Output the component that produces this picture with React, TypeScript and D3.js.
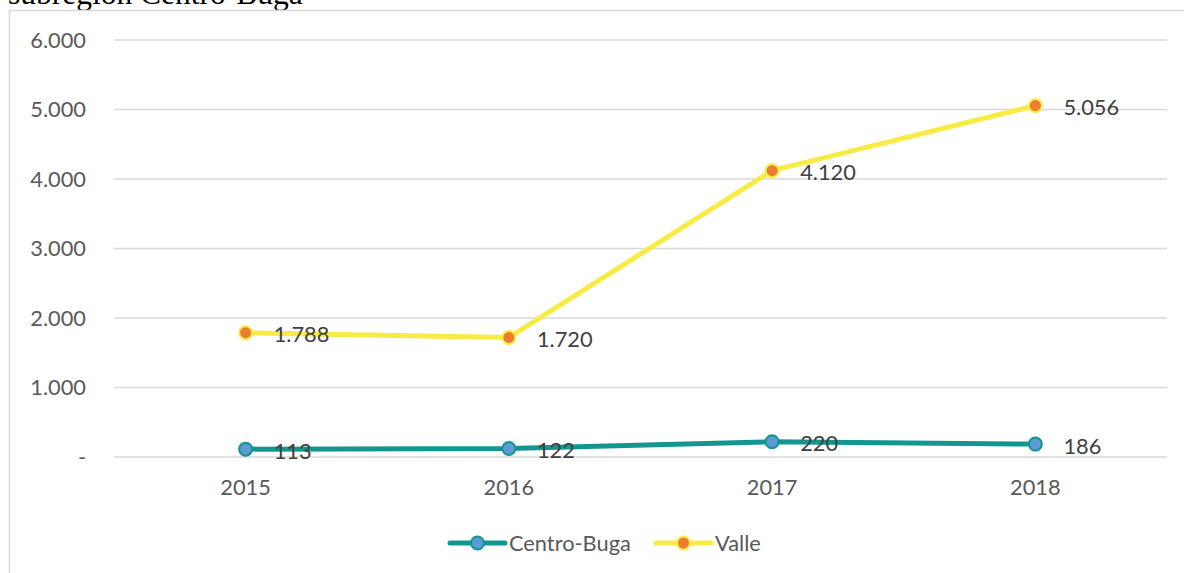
import React from "react";
import * as d3 from "d3";

const years = ["2015", "2016", "2017", "2018"];
const centroBuga = [113, 122, 220, 186];
const valle = [1788, 1720, 4120, 5056];
const yTicks = [0, 1000, 2000, 3000, 4000, 5000, 6000];
const seriesNames = ["Centro-Buga", "Valle"];

const W = 1184;
const H = 573;
const FONT = "Lato, 'Open Sans', sans-serif";
const FS = 21.8;
const fmt = (v: number) => (v === 0 ? "-" : d3.format(",")(v).replace(/,/g, "."));

export default function App() {
  const x = d3.scaleBand().domain(years).range([114, 1167]);
  const y = d3.scaleLinear().domain([0, 6000]).range([457, 40]);
  const cx = (d: string) => (x(d) as number) + x.bandwidth() / 2;
  const line = d3
    .line<number>()
    .x((_, i) => cx(years[i]))
    .y((d) => y(d));

  const series = [
    { name: seriesNames[0], data: centroBuga, stroke: "#13968E", fill: "#5B9BD5" },
    { name: seriesNames[1], data: valle, stroke: "#F7EC45", fill: "#ED7D31" },
  ];

  const legendX = [450, 656];

  return (
    <svg
      width={W}
      height={H}
      style={{ position: "absolute", left: 0, top: 0, background: "#fff" }}
    >
      <text
        x={8}
        y={4}
        fontFamily="'Liberation Serif', 'Times New Roman', serif"
        fontSize={31.5}
        fill="#000"
      >
        subregión Centro-Buga
      </text>
      <rect x={9.5} y={10.5} width={1300} height={700} fill="#fff" stroke="#d9d9d9" strokeWidth={1.5} />
      {yTicks.map((t) => (
        <g key={t}>
          <line x1={114} x2={1167} y1={y(t)} y2={y(t)} stroke="#d9d9d9" strokeWidth={1.5} />
          <text
            x={86}
            y={y(t)}
            dy="0.35em"
            textAnchor="end"
            fontFamily={FONT}
            fontSize={FS}
            fill="#595959"
          >
            {fmt(t)}
          </text>
        </g>
      ))}
      {years.map((yr) => (
        <text
          key={yr}
          x={cx(yr)}
          y={487}
          dy="0.35em"
          textAnchor="middle"
          fontFamily={FONT}
          fontSize={FS}
          fill="#595959"
        >
          {yr}
        </text>
      ))}
      {series.map((s) => (
        <g key={s.name}>
          <path d={line(s.data) as string} fill="none" stroke={s.stroke} strokeWidth={5} strokeLinejoin="round" />
          {s.data.map((v, i) => (
            <circle key={i} cx={cx(years[i])} cy={y(v)} r={6.5} fill={s.fill} stroke={s.stroke} strokeWidth={2} />
          ))}
          {s.data.map((v, i) => (
            <text
              key={"l" + i}
              x={cx(years[i]) + 28}
              y={y(v) + 2}
              dy="0.35em"
              fontFamily={FONT}
              fontSize={FS}
              fill="#404040"
            >
              {fmt(v)}
            </text>
          ))}
        </g>
      ))}
      {series.map((s, i) => (
        <g key={"lg" + s.name}>
          <line x1={legendX[i]} x2={legendX[i] + 55} y1={543} y2={543} stroke={s.stroke} strokeWidth={5} strokeLinecap="round" />
          <circle cx={legendX[i] + 27.5} cy={543} r={6.5} fill={s.fill} stroke={s.stroke} strokeWidth={2} />
          <text x={legendX[i] + 59} y={543} dy="0.35em" fontFamily={FONT} fontSize={FS} fill="#595959">
            {s.name}
          </text>
        </g>
      ))}
    </svg>
  );
}
